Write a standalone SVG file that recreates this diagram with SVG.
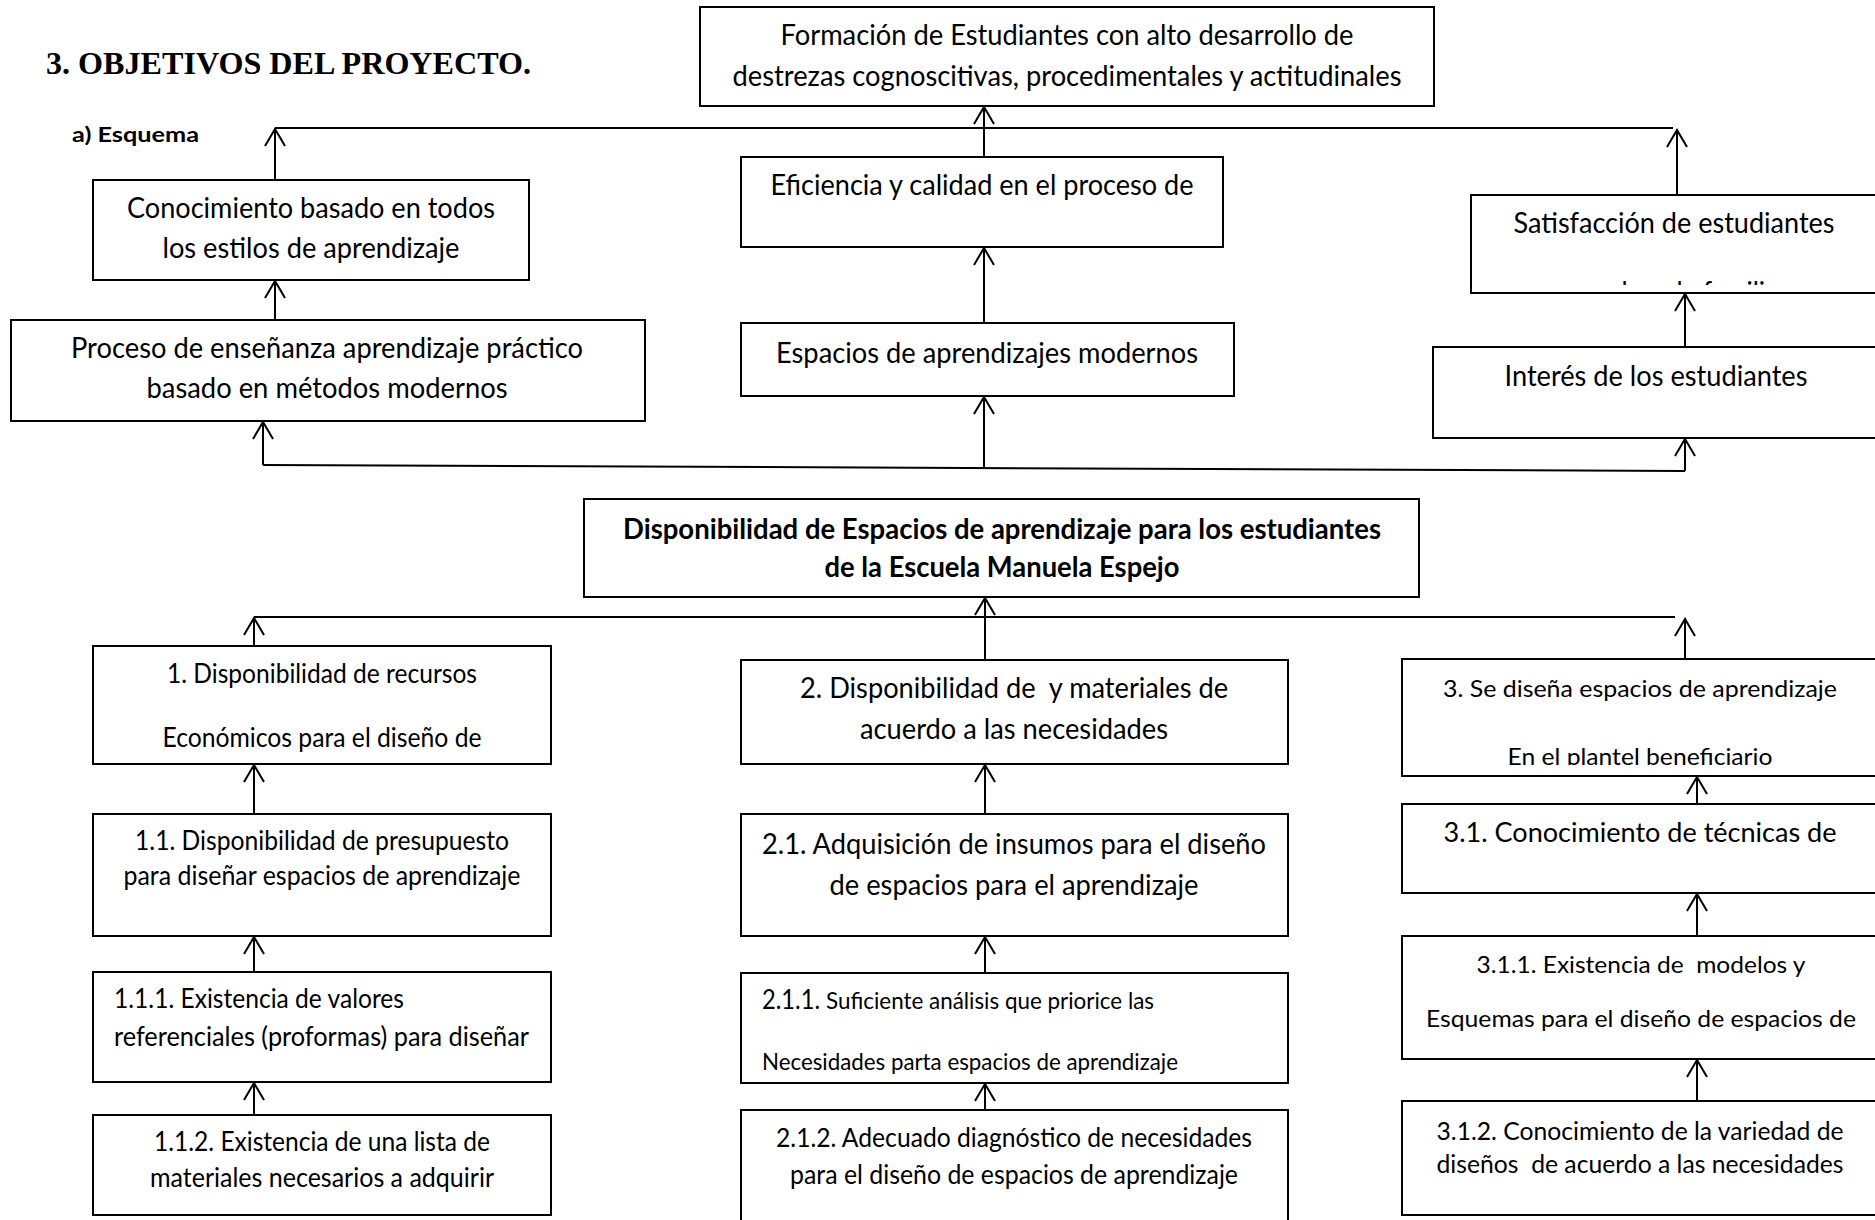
<svg xmlns="http://www.w3.org/2000/svg" width="1875" height="1220" viewBox="0 0 1875 1220">
<style>
.box{fill:#fff;stroke:#000;stroke-width:2}
.t{font-family:Lato,"Liberation Sans",sans-serif;fill:#000}
.c{text-anchor:middle}
.b{font-weight:bold}
.ln{stroke:#000;stroke-width:2;fill:none}
.ar{marker-end:url(#ah)}
</style>
<defs>
<marker id="ah" markerUnits="userSpaceOnUse" orient="auto" overflow="visible" refX="0" refY="0" markerWidth="20" markerHeight="20">
<path d="M-17,-10 L0,0 L-17,10" fill="none" stroke="#000" stroke-width="2"/>
</marker>
<clipPath id="clipSat"><rect x="1471" y="190" width="420" height="95"/></clipPath>
<clipPath id="clip3"><rect x="1402" y="655" width="480" height="110"/></clipPath>
</defs>
<rect width="1875" height="1220" fill="#fff"/>

<g id="title">
<text x="46" y="74" font-family="'Liberation Serif',serif" font-weight="bold" font-size="32" textLength="485" lengthAdjust="spacingAndGlyphs">3. OBJETIVOS DEL PROYECTO.</text>
<text class="t b" x="72" y="142" font-size="21" textLength="127" lengthAdjust="spacingAndGlyphs">a) Esquema</text>
</g>

<g id="n-formacion">
<rect class="box" x="700" y="7" width="734" height="99"/>
<text class="t c" x="1067" y="45" font-size="29" textLength="573" lengthAdjust="spacingAndGlyphs">Formación de Estudiantes con alto desarrollo de</text>
<text class="t c" x="1067" y="86" font-size="29" textLength="669" lengthAdjust="spacingAndGlyphs">destrezas cognoscitivas, procedimentales y actitudinales</text>
</g>

<g id="n-conocimiento">
<rect class="box" x="93" y="180" width="436" height="100"/>
<text class="t c" x="311" y="218" font-size="29" textLength="368" lengthAdjust="spacingAndGlyphs">Conocimiento basado en todos</text>
<text class="t c" x="311" y="258" font-size="29" textLength="297" lengthAdjust="spacingAndGlyphs">los estilos de aprendizaje</text>
</g>

<g id="n-proceso">
<rect class="box" x="11" y="320" width="634" height="101"/>
<text class="t c" x="327" y="358" font-size="29" textLength="512" lengthAdjust="spacingAndGlyphs">Proceso de enseñanza aprendizaje práctico</text>
<text class="t c" x="327" y="398" font-size="29" textLength="361" lengthAdjust="spacingAndGlyphs">basado en métodos modernos</text>
</g>

<g id="n-eficiencia">
<rect class="box" x="741" y="157" width="482" height="90"/>
<text class="t c" x="982" y="195" font-size="29" textLength="423" lengthAdjust="spacingAndGlyphs">Eficiencia y calidad en el proceso de</text>
</g>

<g id="n-espacios">
<rect class="box" x="741" y="323" width="493" height="73"/>
<text class="t c" x="987" y="363" font-size="29" textLength="422" lengthAdjust="spacingAndGlyphs">Espacios de aprendizajes modernos</text>
</g>

<g id="n-satisfaccion">
<rect class="box" x="1471" y="195" width="420" height="98"/>
<text class="t c" x="1674" y="233" font-size="29" textLength="321" lengthAdjust="spacingAndGlyphs">Satisfacción de estudiantes</text>
<text class="t c" x="1672" y="302" font-size="29" textLength="212" lengthAdjust="spacingAndGlyphs" clip-path="url(#clipSat)">y padres de familia</text>
</g>

<g id="n-interes">
<rect class="box" x="1433" y="347" width="460" height="91"/>
<text class="t c" x="1656" y="386" font-size="29" textLength="303" lengthAdjust="spacingAndGlyphs">Interés de los estudiantes</text>
</g>

<g id="n-disponibilidad">
<rect class="box" x="584" y="499" width="835" height="98"/>
<text class="t c b" x="1002" y="539" font-size="29" textLength="758" lengthAdjust="spacingAndGlyphs">Disponibilidad de Espacios de aprendizaje para los estudiantes</text>
<text class="t c b" x="1002" y="577" font-size="29" textLength="355" lengthAdjust="spacingAndGlyphs">de la Escuela Manuela Espejo</text>
</g>

<g id="n-1">
<rect class="box" x="93" y="646" width="458" height="118"/>
<text class="t c" x="322" y="683" font-size="26" textLength="310" lengthAdjust="spacingAndGlyphs">1. Disponibilidad de recursos</text>
<text class="t c" x="322" y="747" font-size="26" textLength="319" lengthAdjust="spacingAndGlyphs">Económicos para el diseño de</text>
</g>

<g id="n-1-1">
<rect class="box" x="93" y="814" width="458" height="122"/>
<text class="t c" x="322" y="850" font-size="26" textLength="374" lengthAdjust="spacingAndGlyphs">1.1. Disponibilidad de presupuesto</text>
<text class="t c" x="322" y="885" font-size="26" textLength="397" lengthAdjust="spacingAndGlyphs">para diseñar espacios de aprendizaje</text>
</g>

<g id="n-1-1-1">
<rect class="box" x="93" y="972" width="458" height="110"/>
<text class="t" x="114" y="1008" font-size="26" textLength="290" lengthAdjust="spacingAndGlyphs">1.1.1. Existencia de valores</text>
<text class="t" x="114" y="1046" font-size="26" textLength="415" lengthAdjust="spacingAndGlyphs">referenciales (proformas) para diseñar</text>
</g>

<g id="n-1-1-2">
<rect class="box" x="93" y="1115" width="458" height="100"/>
<text class="t c" x="322" y="1151" font-size="26" textLength="336" lengthAdjust="spacingAndGlyphs">1.1.2. Existencia de una lista de</text>
<text class="t c" x="322" y="1187" font-size="26" textLength="344" lengthAdjust="spacingAndGlyphs">materiales necesarios a adquirir</text>
</g>

<g id="n-2">
<rect class="box" x="741" y="660" width="547" height="104"/>
<text class="t c" x="1014" y="698" font-size="29" textLength="428" lengthAdjust="spacingAndGlyphs" xml:space="preserve">2. Disponibilidad de  y materiales de</text>
<text class="t c" x="1014" y="739" font-size="29" textLength="308" lengthAdjust="spacingAndGlyphs">acuerdo a las necesidades</text>
</g>

<g id="n-2-1">
<rect class="box" x="741" y="814" width="547" height="122"/>
<text class="t c" x="1014" y="854" font-size="29" textLength="504" lengthAdjust="spacingAndGlyphs">2.1. Adquisición de insumos para el diseño</text>
<text class="t c" x="1014" y="895" font-size="29" textLength="369" lengthAdjust="spacingAndGlyphs">de espacios para el aprendizaje</text>
</g>

<g id="n-2-1-1">
<rect class="box" x="741" y="973" width="547" height="110"/>
<text class="t" x="762" y="1009" font-size="27" textLength="58" lengthAdjust="spacingAndGlyphs">2.1.1.</text>
<text class="t" x="826" y="1009" font-size="23" textLength="328" lengthAdjust="spacingAndGlyphs">Suficiente análisis que priorice las</text>
<text class="t" x="762" y="1070" font-size="23" textLength="416" lengthAdjust="spacingAndGlyphs">Necesidades parta espacios de aprendizaje</text>
</g>

<g id="n-2-1-2">
<rect class="box" x="741" y="1110" width="547" height="120"/>
<text class="t c" x="1014" y="1147" font-size="26.5" textLength="476" lengthAdjust="spacingAndGlyphs">2.1.2. Adecuado diagnóstico de necesidades</text>
<text class="t c" x="1014" y="1184" font-size="26.5" textLength="448" lengthAdjust="spacingAndGlyphs">para el diseño de espacios de aprendizaje</text>
</g>

<g id="n-3">
<rect class="box" x="1402" y="659" width="480" height="117"/>
<text class="t c" x="1640" y="697" font-size="23" textLength="394" lengthAdjust="spacingAndGlyphs">3. Se diseña espacios de aprendizaje</text>
<text class="t c" x="1640" y="765" font-size="23" textLength="265" lengthAdjust="spacingAndGlyphs" clip-path="url(#clip3)">En el plantel beneficiario</text>
</g>

<g id="n-3-1">
<rect class="box" x="1402" y="804" width="480" height="89"/>
<text class="t c" x="1640" y="842" font-size="26" textLength="393" lengthAdjust="spacingAndGlyphs">3.1. Conocimiento de técnicas de</text>
</g>

<g id="n-3-1-1">
<rect class="box" x="1402" y="936" width="480" height="123"/>
<text class="t c" x="1641" y="973" font-size="22.5" textLength="329" lengthAdjust="spacingAndGlyphs" xml:space="preserve">3.1.1. Existencia de  modelos y</text>
<text class="t c" x="1641" y="1027" font-size="22.5" textLength="430" lengthAdjust="spacingAndGlyphs">Esquemas para el diseño de espacios de</text>
</g>

<g id="n-3-1-2">
<rect class="box" x="1402" y="1101" width="480" height="114"/>
<text class="t c" x="1640" y="1140" font-size="25" textLength="407" lengthAdjust="spacingAndGlyphs">3.1.2. Conocimiento de la variedad de</text>
<text class="t c" x="1640" y="1173" font-size="25" textLength="407" lengthAdjust="spacingAndGlyphs" xml:space="preserve">diseños  de acuerdo a las necesidades</text>
</g>

<g id="connectors">
<path class="ln" d="M275,128 H1673"/>
<path class="ln ar" d="M275,180 V129"/>
<path class="ln ar" d="M984,157 V107"/>
<path class="ln ar" d="M1677,195 V130"/>
<path class="ln ar" d="M275,320 V281"/>
<path class="ln ar" d="M984,323 V248"/>
<path class="ln ar" d="M1685,347 V294"/>
<path class="ln" d="M263,465 L1685,471"/>
<path class="ln ar" d="M263,465 V422"/>
<path class="ln ar" d="M984,468 V397"/>
<path class="ln ar" d="M1685,471 V439"/>

<path class="ln" d="M254,617 H1675"/>
<path class="ln ar" d="M254,646 V618"/>
<path class="ln ar" d="M985,660 V598"/>
<path class="ln ar" d="M1685,659 V619"/>
<path class="ln ar" d="M254,814 V765"/>
<path class="ln ar" d="M254,972 V937"/>
<path class="ln ar" d="M254,1115 V1083"/>
<path class="ln ar" d="M985,814 V765"/>
<path class="ln ar" d="M985,973 V937"/>
<path class="ln ar" d="M985,1110 V1084"/>
<path class="ln ar" d="M1697,804 V777"/>
<path class="ln ar" d="M1697,936 V894"/>
<path class="ln ar" d="M1697,1101 V1060"/>
</g>
</svg>
